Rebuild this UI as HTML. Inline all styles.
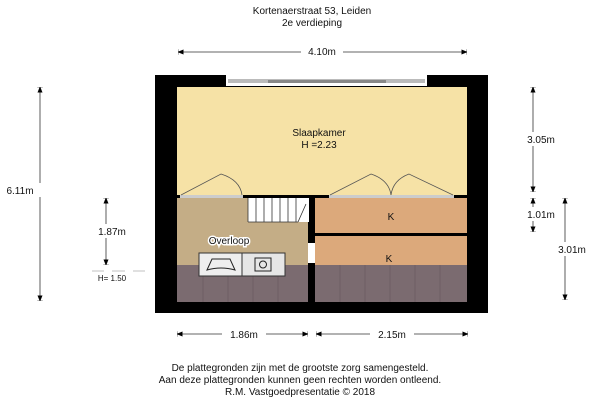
<!DOCTYPE html>
<html><head><style>
html,body{margin:0;padding:0;background:#fff;}
svg{display:block;font-family:"Liberation Sans",Arial,sans-serif;}
</style></head><body>
<svg width="600" height="400" viewBox="0 0 600 400" xmlns="http://www.w3.org/2000/svg">
<defs>
<marker id="a" viewBox="0 0 10 10" refX="10" refY="5" markerWidth="7" markerHeight="7" orient="auto-start-reverse"><path d="M0,1 L10,5 L0,9z M10,0 L10,10" fill="#000" stroke="#000" stroke-width="1"/></marker>
</defs>
<g font-size="10" fill="#111" text-anchor="middle">
<text x="312" y="14">Kortenaerstraat 53, Leiden</text>
<text x="312" y="26">2e verdieping</text>
</g>
<rect x="155" y="75" width="333" height="238" fill="#000"/>
<rect x="226" y="75" width="201" height="11" fill="#fff"/>
<rect x="228" y="79" width="197" height="4" fill="#bbb"/>
<rect x="268" y="80" width="118" height="3" fill="#888"/>
<rect x="177" y="87" width="290" height="108" fill="#f6e2a6"/>
<rect x="177" y="198" width="131" height="104" fill="#c4ad86"/>
<rect x="315" y="198" width="152" height="35" fill="#dca97b"/>
<rect x="315" y="236" width="152" height="66" fill="#dca97b"/>
<rect x="177" y="265" width="131" height="37" fill="#7b6b70"/>
<rect x="315" y="265" width="152" height="37" fill="#7b6b70"/>
<g stroke="#6a5a60" stroke-width="0.7">
<line x1="203" y1="265" x2="203" y2="302"/><line x1="228" y1="265" x2="228" y2="302"/><line x1="253" y1="265" x2="253" y2="302"/><line x1="278" y1="265" x2="278" y2="302"/>
<line x1="340" y1="265" x2="340" y2="302"/><line x1="365" y1="265" x2="365" y2="302"/><line x1="390" y1="265" x2="390" y2="302"/><line x1="415" y1="265" x2="415" y2="302"/><line x1="440" y1="265" x2="440" y2="302"/>
</g>
<rect x="180" y="195" width="63" height="3" fill="#ccc"/>
<rect x="329" y="195" width="125" height="3" fill="#ccc"/>
<rect x="308" y="243" width="7" height="20" fill="#fff"/>
<g fill="none" stroke="#555" stroke-width="0.8">
<path d="M181,195 L221,174 Q240,180 242,195"/>
<path d="M330,195 L371,174 Q389,180 391,195"/>
<path d="M453,195 L409,174 Q393,180 391,195"/>
</g>
<rect x="248" y="198" width="61" height="24" fill="#fff"/>
<g stroke="#333" stroke-width="0.8">
<line x1="248" y1="198" x2="248" y2="222"/><line x1="256" y1="198" x2="256" y2="222"/><line x1="264" y1="198" x2="264" y2="222"/><line x1="272" y1="198" x2="272" y2="222"/><line x1="280" y1="198" x2="280" y2="222"/><line x1="288" y1="198" x2="288" y2="222"/><line x1="296" y1="198" x2="296" y2="222"/>
<line x1="248" y1="222" x2="298" y2="222"/><line x1="298" y1="222" x2="306" y2="204"/>
</g>
<rect x="199" y="253" width="43" height="23" fill="#eee" stroke="#333"/>
<rect x="242" y="253" width="43" height="23" fill="#e6e6e6" stroke="#333"/>
<path d="M207,270 L212,259 L230,259 L235,270 Q221,266 207,270z" fill="none" stroke="#222"/>
<rect x="255" y="258" width="16" height="13" fill="none" stroke="#222"/>
<circle cx="263" cy="264.5" r="3.5" fill="none" stroke="#222"/>
<g font-size="10" fill="#111" text-anchor="middle">
<text x="319" y="136">Slaapkamer</text>
<text x="319" y="148">H =2.23</text>
<text x="391" y="220">K</text>
<text x="389" y="262">K</text>
</g>
<text x="229" y="244" font-size="10" text-anchor="middle" fill="#fff" stroke="#fff" stroke-width="3">Overloop</text>
<text x="229" y="244" font-size="10" text-anchor="middle" fill="#111">Overloop</text>
<g stroke="#333" stroke-width="0.8" marker-start="url(#a)" marker-end="url(#a)">
<line x1="178" y1="52" x2="467" y2="52"/>
<line x1="177" y1="334" x2="308" y2="334"/>
<line x1="316" y1="334" x2="468" y2="334"/>
<line x1="40" y1="87" x2="40" y2="301"/>
<line x1="106" y1="198" x2="106" y2="265"/>
<line x1="533" y1="87" x2="533" y2="192"/>
<line x1="533" y1="198" x2="533" y2="232"/>
<line x1="565" y1="198" x2="565" y2="300"/>
</g>
<g font-size="10" fill="#111" text-anchor="middle">
<rect x="301" y="44" width="42" height="14" fill="#fff"/><text x="322" y="55">4.10m</text>
<rect x="222" y="326" width="44" height="14" fill="#fff"/><text x="244" y="338">1.86m</text>
<rect x="370" y="326" width="44" height="14" fill="#fff"/><text x="392" y="338">2.15m</text>
<rect x="4" y="183" width="44" height="14" fill="#fff"/><text x="20" y="194">6.11m</text>
<rect x="92" y="224" width="40" height="14" fill="#fff"/><text x="112" y="235">1.87m</text>
<rect x="520" y="132" width="44" height="14" fill="#fff"/><text x="541" y="143">3.05m</text>
<rect x="520" y="207" width="44" height="14" fill="#fff"/><text x="541" y="218">1.01m</text>
<rect x="551" y="242" width="44" height="14" fill="#fff"/><text x="572" y="253">3.01m</text>
<text x="112" y="281" font-size="8">H= 1.50</text>
<text x="300" y="371" font-size="10">De plattegronden zijn met de grootste zorg samengesteld.</text>
<text x="300" y="383" font-size="10">Aan deze plattegronden kunnen geen rechten worden ontleend.</text>
<text x="300" y="395" font-size="10">R.M. Vastgoedpresentatie © 2018</text>
</g>
<g stroke="#999" stroke-width="0.6"><line x1="92" y1="271" x2="104" y2="271"/><line x1="112" y1="271" x2="125" y2="271"/><line x1="133" y1="271" x2="145" y2="271"/></g>
</svg>
</body></html>
